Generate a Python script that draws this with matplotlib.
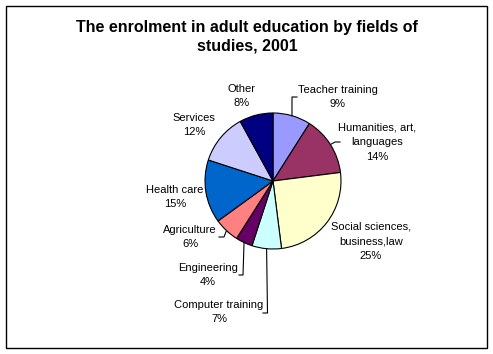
import numpy as np
import matplotlib.pyplot as plt
from matplotlib.patches import Rectangle

fields = ["Teacher training", "Humanities, art,\nlanguages", "Social sciences,\nbusiness,law",
          "Computer training", "Engineering", "Agriculture", "Health care", "Services", "Other"]
shares = [9, 14, 25, 7, 4, 6, 15, 12, 8]
colors = ["#9999FF", "#993366", "#FFFFCC", "#CCFFFF", "#660066",
          "#FF8080", "#0066CC", "#CCCCFF", "#000080"]

W, H = 493, 354
# label centres in pixel coords (y from top)
label_pos = [(338, 97), (377, 142), (371, 241), (219, 312), (208, 275),
             (190, 237), (175, 197), (194, 125), (242, 96)]
# leader elbows (pixel coords) for labels that have one
leaders = {0: [(292, 97), (297, 97)],
           1: [(335, 142), (340, 142)],
           3: [(267.5, 313), (263, 313)],
           4: [(243, 275), (239, 275)],
           5: [(224, 237), (219, 237)]}

cx, cy, r = 273, 181, 68

fig = plt.figure(figsize=(W / 100, H / 100), dpi=100)
ax = fig.add_axes([0, 0, 1, 1])
ax.set_xlim(0, W)
ax.set_ylim(0, H)
ax.set_aspect("equal")
ax.axis("off")

ax.pie(shares, colors=colors, startangle=90, counterclock=False,
       center=(cx, H - cy), radius=r,
       wedgeprops=dict(edgecolor="black", linewidth=0.8))
ax.set_xlim(0, W)
ax.set_ylim(0, H)

font = "Liberation Sans"
cum = np.cumsum([0] + shares)
for i, (name, val) in enumerate(zip(fields, shares)):
    x, y = label_pos[i]
    ax.text(x, H - y, f"{name}\n{val}%", ha="center", va="center",
            fontsize=8, family=font, linespacing=1.6)
    if i in leaders:
        ang = np.radians((cum[i] + val / 2) / 100 * 360)
        sx, sy = cx + r * np.sin(ang), cy - r * np.cos(ang)
        pts = [(sx, sy)] + leaders[i]
        ax.plot([p[0] for p in pts], [H - p[1] for p in pts], color="black", lw=0.8)

ax.text(247, H - 37, "The enrolment in adult education by fields of\nstudies, 2001",
        ha="center", va="center", fontsize=11.5, fontweight="bold", family=font,
        linespacing=1.3)

ax.add_patch(Rectangle((6, H - 348), 481, 342, fill=False, edgecolor="black", lw=1))

fig.savefig("out.png", dpi=100)
